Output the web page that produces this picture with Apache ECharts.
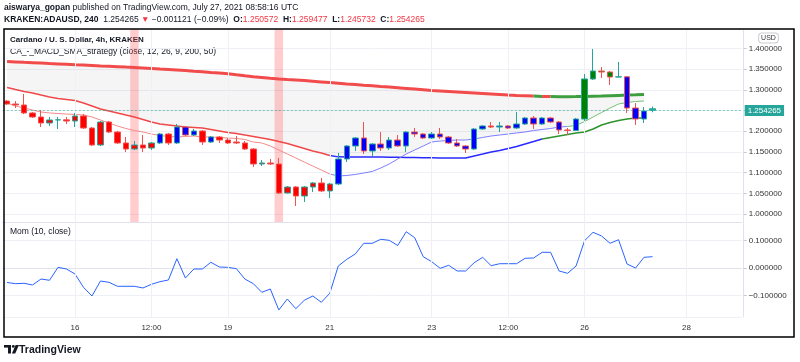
<!DOCTYPE html>
<html><head><meta charset="utf-8">
<script src="https://cdn.jsdelivr.net/npm/echarts@6/dist/echarts.min.js"></script>
<style>html,body{margin:0;padding:0;background:#fff}#c{width:800px;height:362px}</style>
</head><body><div id="c"></div>
<script>
const FONT = '"Liberation Sans", Arial, sans-serif';

// ---- time slots (4h bars) ----
const categories = [];
const t0 = Date.UTC(2021, 6, 14, 16);
const pad2 = n => String(n).padStart(2, '0');
for (let k = 0; k < 87; k++) {
  const d = new Date(t0 + k * 4 * 3600 * 1000);
  categories.push(pad2(d.getUTCMonth() + 1) + '-' + pad2(d.getUTCDate()) + ' ' + pad2(d.getUTCHours()) + ':00');
}
const xTickCats = ['07-16 00:00','07-17 12:00','07-19 00:00','07-21 00:00','07-23 00:00','07-24 12:00','07-26 00:00','07-28 00:00'];
const xTickText = ['16','12:00','19','21','23','12:00','26','28'];
const signalCats = ['07-17 04:00','07-20 00:00'];

// ---- OHLC ----
const opens = [1.2729,1.2657,1.2633,1.2440,1.2343,1.2198,1.2271,1.2275,1.2246,1.2367,
1.2077,1.1667,1.2222,1.1981,1.1715,1.1570,1.1667,1.1594,1.1715,1.1932,
1.1715,1.2101,1.1908,1.2005,1.1739,1.1860,1.1787,1.1739,1.1715,1.1570,
1.1208,1.1232,1.1208,1.0507,1.0652,1.0435,1.0652,1.0749,1.0556,1.0725,
1.1329,1.1643,1.1836,1.1522,1.1691,1.1594,1.1787,1.1643,1.1981,1.1932,
1.1836,1.1932,1.1860,1.1715,1.1643,1.1570,1.2053,1.2126,1.2101,1.2126,
1.2077,1.2174,1.2319,1.2174,1.2319,1.2222,1.2029,1.2017,1.2295,1.3261,
1.3454,1.3430,1.3309,1.3313,1.2560,1.2295,1.250572];
const closes = [1.2657,1.2633,1.2440,1.2343,1.2198,1.2271,1.2275,1.2246,1.2367,1.2077,
1.1667,1.2222,1.1981,1.1715,1.1570,1.1667,1.1594,1.1715,1.1932,1.1715,
1.2101,1.1908,1.2005,1.1739,1.1860,1.1787,1.1715,1.1715,1.1570,1.1208,
1.1232,1.1208,1.0507,1.0652,1.0435,1.0652,1.0749,1.0556,1.0725,1.1329,
1.1643,1.1836,1.1522,1.1691,1.1594,1.1787,1.1643,1.1981,1.1932,1.1836,
1.1932,1.1860,1.1715,1.1643,1.1570,1.2053,1.2126,1.2101,1.2126,1.2077,
1.2174,1.2319,1.2174,1.2319,1.2222,1.2029,1.2017,1.2295,1.3261,1.3454,
1.3430,1.3309,1.3313,1.2560,1.2295,1.2488,1.254265];
const lows = [1.2633,1.2560,1.2415,1.2319,1.2101,1.2126,1.2053,1.2174,1.2101,1.2053,
1.1643,1.1643,1.1957,1.1691,1.1498,1.1546,1.1498,1.1546,1.1691,1.1667,
1.1691,1.1884,1.1884,1.1667,1.1715,1.1715,1.1691,1.1691,1.1546,1.1135,
1.1159,1.1184,1.0483,1.0495,1.0193,1.0290,1.0531,1.0531,1.0386,1.0700,
1.1256,1.1522,1.1449,1.1401,1.1522,1.1546,1.1618,1.1498,1.1860,1.1812,
1.1812,1.1812,1.1691,1.1618,1.1473,1.1546,1.2029,1.2077,1.1981,1.2053,
1.2053,1.2150,1.2053,1.2150,1.2198,1.1932,1.1908,1.2005,1.2246,1.3237,
1.3285,1.3116,1.3300,1.2440,1.2150,1.2198,1.245732];
const highs = [1.2754,1.2729,1.2899,1.2464,1.2512,1.2343,1.2343,1.2343,1.2440,1.2415,
1.2101,1.2246,1.2246,1.2005,1.1860,1.1763,1.1908,1.1739,1.1957,1.1957,
1.2174,1.2126,1.2053,1.2029,1.1884,1.1884,1.1836,1.1884,1.1763,1.1594,
1.1304,1.1329,1.1353,1.0676,1.0676,1.0676,1.0773,1.0870,1.0749,1.1473,
1.1667,1.1860,1.2222,1.1715,1.1981,1.1860,1.1908,1.2005,1.2077,1.1957,
1.1981,1.2077,1.1884,1.1812,1.1667,1.2077,1.2150,1.2222,1.2222,1.2150,
1.2464,1.2343,1.2367,1.2343,1.2343,1.2246,1.2077,1.2319,1.3382,1.3986,
1.3551,1.3454,1.3672,1.3333,1.2681,1.2585,1.259477];
// strategy bar state: R = bear, B = neutral, G = bull, T = live bar
const barState = ('RRRRRRRRRRRRRRRRRR' + 'B' + 'R' + 'BBB' + 'R' + 'B' + 'RRRRRRRRRRRRRR' +
  'BBBBBBBBBBBBBBBBBB' + 'R' + 'BBBBBBBBBB' + 'GGGGG' + 'BBB' + 'T').split('');

// ---- indicator lines ----
const sma200 = [1.3684,1.3674,1.3664,1.3655,1.3645,1.3635,1.3626,1.3616,1.3606,1.3597,
1.3587,1.3577,1.3568,1.3558,1.3548,1.3539,1.3527,1.3515,1.3502,1.3490,
1.3478,1.3464,1.3449,1.3435,1.3420,1.3406,1.3387,1.3362,1.3338,1.3316,
1.3297,1.3278,1.3263,1.3249,1.3237,1.3225,1.3208,1.3191,1.3174,1.3157,
1.3140,1.3126,1.3111,1.3097,1.3082,1.3068,1.3051,1.3034,1.3017,1.3000,
1.2983,1.2971,1.2959,1.2947,1.2935,1.2923,1.2911,1.2899,1.2887,1.2874,
1.2862,1.2855,1.2848,1.2841,1.2836,1.2831,1.2833,1.2836,1.2841,1.2846,
1.2850,1.2858,1.2865,1.2872,1.2879,1.2887];
const slowLine = [1.3056,1.3007,1.2959,1.2923,1.2874,1.2826,1.2790,1.2766,1.2741,1.2681,
1.2609,1.2536,1.2488,1.2440,1.2391,1.2343,1.2283,1.2222,1.2174,1.2150,
1.2126,1.2101,1.2089,1.2077,1.2041,1.2005,1.1969,1.1945,1.1908,1.1872,
1.1836,1.1800,1.1751,1.1703,1.1643,1.1582,1.1522,1.1473,1.1413,1.1380,
1.1379,1.1378,1.1377,1.1376,1.1375,1.1372,1.1370,1.1365,1.1365,1.1360,
1.1357,1.1353,1.1353,1.1353,1.1353,1.1401,1.1449,1.1498,1.1534,1.1582,
1.1630,1.1691,1.1751,1.1812,1.1848,1.1884,1.1920,1.1957,1.1981,1.2053,
1.2150,1.2210,1.2258,1.2295,1.2319,1.2319];
const fastLine = [1.2681,1.2609,1.2560,1.2512,1.2464,1.2440,1.2427,1.2415,1.2403,1.2391,
1.2343,1.2271,1.2198,1.2126,1.2065,1.2017,1.1981,1.1932,1.1896,1.1872,
1.1860,1.1872,1.1884,1.1860,1.1860,1.1848,1.1836,1.1824,1.1800,1.1739,
1.1715,1.1643,1.1546,1.1449,1.1353,1.1256,1.1159,1.1063,1.0966,1.0918,
1.0930,1.0954,1.0990,1.1027,1.1111,1.1208,1.1329,1.1449,1.1546,1.1643,
1.1739,1.1763,1.1775,1.1787,1.1787,1.1812,1.1848,1.1884,1.1908,1.1932,
1.1957,1.1981,1.2017,1.2041,1.2065,1.2101,1.2113,1.2138,1.2234,1.2343,
1.2452,1.2560,1.2657,1.2693,1.2717,1.2729];
const momentum = [-0.0527,-0.0570,-0.0556,-0.0618,-0.0400,-0.0447,0.0025,-0.0036,-0.0218,-0.0702,
-0.1018,-0.0473,-0.0520,-0.0665,-0.0665,-0.0665,-0.0727,-0.0593,-0.0498,-0.0436,
0.0338,-0.0364,-0.0036,-0.0036,0.0207,0.0036,0.0025,-0.0025,-0.0400,-0.0571,
-0.0884,-0.0764,-0.1527,-0.1127,-0.1480,-0.1175,-0.1018,-0.1247,-0.0920,0.0073,
0.0316,0.0509,0.0898,0.0898,0.1044,0.1007,0.0818,0.1320,0.1102,0.0411,
0.0229,-0.0011,0.0098,-0.0109,-0.0109,0.0193,0.0389,0.0084,0.0156,0.0156,
0.0156,0.0353,0.0364,0.0571,0.0571,-0.0109,-0.0193,0.0073,0.0993,0.1298,
0.1164,0.0898,0.1029,0.0145,0.0000,0.0389,0.0411];

// ---- derived ----
const UP = '#26a69a', DOWN = '#ef5350';
const STATE_COLOR = {R: '#ff0000', B: '#0000ff', G: '#008000', T: '#26a69a'};
const candleData = opens.map((o, i) => {
  const c = closes[i];
  const dir = c >= o ? UP : DOWN;
  const body = STATE_COLOR[barState[i]];
  return {value: [o, c, lows[i], highs[i]], itemStyle: {color: body, color0: body, borderColor: dir, borderColor0: dir}};
});
const lastClose = closes[closes.length - 1];
const upper = fastLine.map((f, i) => Math.max(f, slowLine[i]));
const fillDiff = sma200.map((s, i) => +(s - upper[i]).toFixed(6));
function seg(arr, a, b) { return arr.map((v, i) => (i >= a && i <= b) ? v : '-'); }
function lineS(data, color, width, z) {
  return {type: 'line', xAxisIndex: 0, yAxisIndex: 0, data: data, symbol: 'none', silent: true,
    lineStyle: {color: color, width: width}, z: z || 3, connectNulls: false};
}
const RED = '#f24b4b', GREEN = '#3f9e3f';

const vGrid = {silent: true, symbol: ['none', 'none'], label: {show: false}, animation: false,
  lineStyle: {color: '#eef0f5', width: 1, type: 'solid'}, data: xTickCats.map(c => ({xAxis: c}))};

const chart = echarts.init(document.getElementById('c'), null, {renderer: 'canvas'});
chart.setOption({
  animation: false,
  textStyle: {fontFamily: FONT},
  grid: [
    {left: 2.8, top: 29.5, width: 738.9, height: 192.5},
    {left: 2.8, top: 222, width: 738.9, height: 95}
  ],
  xAxis: [
    {gridIndex: 0, type: 'category', data: categories, boundaryGap: true,
      axisLabel: {show: false}, axisTick: {show: false}, splitLine: {show: false},
      axisLine: {show: true, lineStyle: {color: '#e0e3eb'}}},
    {gridIndex: 1, type: 'category', data: categories, boundaryGap: true,
      axisTick: {show: false}, splitLine: {show: false},
      axisLine: {show: true, lineStyle: {color: '#e0e3eb'}},
      axisLabel: {interval: (i, v) => xTickCats.indexOf(v) >= 0,
        formatter: v => xTickText[xTickCats.indexOf(v)] || '',
        fontSize: 8, fontFamily: FONT, color: '#333', margin: 7}}
  ],
  yAxis: [
    {gridIndex: 0, type: 'value', position: 'right', min: 0.98068, max: 1.44565, splitNumber: 9, offset: 2,
      axisLine: {show: true, lineStyle: {color: '#e0e3eb'}},
      axisTick: {show: true, length: 3, lineStyle: {color: '#c8cbd3'}},
      axisLabel: {showMinLabel: false, showMaxLabel: false, fontSize: 8, fontFamily: FONT, color: '#333', margin: 5,
        formatter: v => Math.abs(v - 1.25) < 1e-6 ? '' : v.toFixed(6)},
      splitLine: {lineStyle: {color: '#eef0f5'}}},
    {gridIndex: 1, type: 'value', position: 'right', min: -0.1782, max: 0.1673, splitNumber: 3, offset: 2,
      axisLine: {show: true, lineStyle: {color: '#e0e3eb'}},
      axisTick: {show: true, length: 3, lineStyle: {color: '#c8cbd3'}},
      axisLabel: {showMinLabel: false, showMaxLabel: false, fontSize: 8, fontFamily: FONT, color: '#333', margin: 5,
        formatter: v => (v < -1e-9 ? '\u2212' : '') + Math.abs(v).toFixed(6)},
      splitLine: {lineStyle: {color: '#eef0f5'}}},
    {gridIndex: 0, type: 'value', min: 0, max: 1, show: false}
  ],
  series: [
    {type: 'bar', xAxisIndex: 0, yAxisIndex: 2, barWidth: '100%', silent: true, z: 1,
      data: categories.map(c => signalCats.indexOf(c) >= 0 ? 1 : '-'),
      itemStyle: {color: 'rgba(255,90,90,0.3)'}, markLine: vGrid},
    {type: 'line', xAxisIndex: 0, yAxisIndex: 0, stack: 'fill', data: upper, symbol: 'none', silent: true,
      lineStyle: {opacity: 0}, z: 1},
    {type: 'line', xAxisIndex: 0, yAxisIndex: 0, stack: 'fill', data: fillDiff, symbol: 'none', silent: true,
      lineStyle: {opacity: 0}, areaStyle: {color: 'rgba(0,0,0,0.055)'}, z: 1},
    lineS(seg(sma200, 0, 62), RED, 3),
    lineS(seg(sma200, 62, 63), GREEN, 3),
    lineS(seg(sma200, 63, 64), RED, 3),
    lineS(seg(sma200, 64, 75), GREEN, 3),
    lineS(seg(slowLine, 0, 38), '#f04848', 1.5),
    lineS(seg(slowLine, 38, 63), '#2a2aff', 1.5),
    lineS(seg(slowLine, 63, 75), '#2e922e', 1.5),
    lineS(seg(fastLine, 0, 38), '#f38a8a', 1),
    lineS(seg(fastLine, 38, 66), '#7d7dff', 1),
    lineS(seg(fastLine, 66, 75), '#78c078', 1),
    {type: 'candlestick', xAxisIndex: 0, yAxisIndex: 0, data: candleData, barWidth: 6, z: 5, silent: true,
      markLine: {silent: true, symbol: ['none', 'none'], animation: false,
        lineStyle: {color: 'rgba(38,166,154,0.55)', type: [2, 2], width: 1},
        label: {show: true, position: 'end', distance: 3, formatter: () => lastClose.toFixed(6),
          backgroundColor: '#26a69a', color: '#ffffff', fontSize: 8, fontFamily: FONT, padding: [2, 3, 1, 3]},
        data: [{yAxis: lastClose}]}},
    {type: 'line', xAxisIndex: 1, yAxisIndex: 1, data: momentum, symbol: 'none', silent: true,
      lineStyle: {color: '#2962ff', width: 1}, z: 3, markLine: vGrid}
  ],
  graphic: [
    {type: 'text', x: 4, y: 8, silent: true, style: {
      text: '{b|aiswarya_gopan} published on TradingView.com, July 27, 2021 08:58:16 UTC',
      fontSize: 8.5, fontFamily: FONT, fill: '#131722', verticalAlign: 'middle',
      rich: {b: {fontWeight: 'bold', fontSize: 8.5, fontFamily: FONT, fill: '#131722'}}}},
    {type: 'text', x: 4, y: 20, silent: true, style: {
      text: '{b|KRAKEN:ADAUSD, 240}  1.254265 {r|\u25BC} \u22120.001121 (\u22120.09%)  {b|O:}{r|1.250572}  {b|H:}{r|1.259477}  {b|L:}{r|1.245732}  {b|C:}{r|1.254265}',
      fontSize: 8.5, fontFamily: FONT, fill: '#131722', verticalAlign: 'middle',
      rich: {b: {fontWeight: 'bold', fontSize: 8.5, fontFamily: FONT, fill: '#131722'},
             r: {fontSize: 8.5, fontFamily: FONT, fill: '#f23645'}}}},
    {type: 'text', x: 10, y: 40, silent: true, style: {text: 'Cardano / U. S. Dollar, 4h, KRAKEN',
      fontSize: 8, fontWeight: 'bold', fontFamily: FONT, fill: '#131722', verticalAlign: 'middle'}},
    {type: 'text', x: 10, y: 52, silent: true, style: {text: 'CA_-_MACD_SMA_strategy (close, 12, 26, 9, 200, 50)',
      fontSize: 8.5, fontFamily: FONT, fill: '#131722', verticalAlign: 'middle'}},
    {type: 'text', x: 10, y: 232, silent: true, style: {text: 'Mom (10, close)',
      fontSize: 8.5, fontFamily: FONT, fill: '#131722', verticalAlign: 'middle'}},
    {type: 'text', x: 768.5, y: 38, silent: true, z: 20, style: {text: 'USD', fontSize: 7, fontFamily: FONT,
      fill: '#333', align: 'center', verticalAlign: 'middle', backgroundColor: '#fff',
      borderColor: '#c8cbd3', borderWidth: 1, borderRadius: 3, padding: [1, 2]}},
    {type: 'rect', silent: true, z: 30, shape: {x: 4, y: 29, width: 790, height: 308},
      style: {fill: 'none', stroke: '#000', lineWidth: 1.5}},
    {type: 'group', x: 4, y: 345, silent: true, children: [
      {type: 'rect', shape: {x: 0, y: 0, width: 7, height: 2.6}, style: {fill: '#131722'}},
      {type: 'rect', shape: {x: 4, y: 0, width: 3, height: 8.5}, style: {fill: '#131722'}},
      {type: 'circle', shape: {cx: 9.3, cy: 1.4, r: 1.4}, style: {fill: '#131722'}},
      {type: 'polygon', shape: {points: [[11.6, 0], [15, 0], [11.2, 8.5], [7.9, 8.5]]}, style: {fill: '#131722'}}
    ]},
    {type: 'text', x: 19, y: 350, silent: true, style: {text: 'TradingView', fontSize: 10.5, fontWeight: 'bold',
      fontFamily: FONT, fill: '#131722', verticalAlign: 'middle'}}
  ]
});
</script></body></html>
